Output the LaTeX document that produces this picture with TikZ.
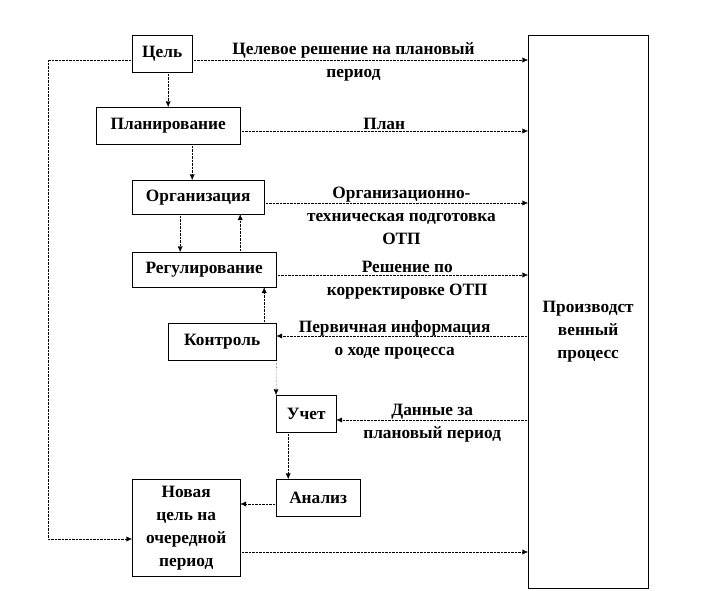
\documentclass[tikz,border=0pt]{standalone}
\usepackage{fontspec}
\setmainfont{Liberation Serif}
\usetikzlibrary{arrows.meta}

\begin{document}
\begin{tikzpicture}[x=1pt,y=-1pt,
  box/.style={draw,thin,anchor=north west,align=center,inner sep=2pt,
              font=\bfseries\fontsize{17.3}{23}\selectfont},
  lbl/.style={align=center,inner sep=1pt,font=\bfseries\fontsize{17.3}{23}\selectfont},
  conn/.style={densely dotted,thin,-{Latex[length=2mm,width=1.8mm]}}]
\useasboundingbox (0,0) rectangle (720,591);
% blocks
\node[box,minimum width=60pt,minimum height=37pt] (cel) at (132,35) {Цель};
\node[box,minimum width=144pt,minimum height=37pt] (plan) at (96,107) {Планирование};
\node[box,minimum width=132pt,minimum height=34pt] (org) at (132,180) {Организация};
\node[box,minimum width=144pt,minimum height=35pt] (reg) at (132,252) {Регулирование};
\node[box,minimum width=108pt,minimum height=37pt] (kontr) at (168,323) {Контроль};
\node[box,minimum width=60pt,minimum height=37pt] (uchet) at (276,395) {Учет};
\node[box,minimum width=84pt,minimum height=37pt] (analiz) at (276,479) {Анализ};
\node[box,minimum width=108pt,minimum height=97pt] (nov) at (132,479) {Новая\\цель на\\очередной\\период};
\node[box,minimum width=120pt,minimum height=553pt] (proc) at (528,35) {};
\node[lbl] (proctxt) at ([yshift=-20pt]proc.center) {Производст\\венный\\процесс};
% levels of the horizontal links
\coordinate (y1) at (0,60);
\coordinate (y2) at (0,131);
\coordinate (y3) at (0,203);
\coordinate (y4) at (0,275);
\coordinate (y5) at (0,336);
\coordinate (y6) at (0,420);
\coordinate (y7) at (0,504);
\coordinate (y8) at (0,539);
\coordinate (y9) at (0,552);
% to the process
\draw[conn] (cel.east |- y1) -- node[lbl,pos=.48,yshift=-1.5pt]{Целевое решение на плановый\\период} (proc.west |- y1);
\draw[conn] (plan.east |- y2) -- node[lbl,pos=.5,above]{План} (proc.west |- y2);
\draw[conn] (org.east |- y3) -- node[lbl,pos=.52,yshift=-13pt]{Организационно-\\техническая подготовка\\ОТП} (proc.west |- y3);
\draw[conn] (reg.east |- y4) -- node[lbl,pos=.52,yshift=-5pt]{Решение по\\корректировке ОТП} (proc.west |- y4);
\draw[conn] (nov.east |- y9) -- (proc.west |- y9);
% from the process
\draw[conn] (proc.west |- y5) -- node[lbl,pos=.53,yshift=-3.5pt]{Первичная информация\\о ходе процесса} (kontr.east |- y5);
\draw[conn] (proc.west |- y6) -- node[lbl,pos=.5,yshift=-3pt]{Данные за\\плановый период} (uchet.east |- y6);
% vertical chain
\draw[conn] ([xshift=6pt]cel.south) -- ([xshift=6pt]cel.south |- plan.north);
\draw[conn] ([xshift=24pt]plan.south) -- ([xshift=24pt]plan.south |- org.north);
\draw[conn] ([xshift=-18pt]org.south) -- ([xshift=-18pt]org.south |- reg.north);
\draw[conn] ([xshift=36pt]reg.north) -- ([xshift=36pt]reg.north |- org.south);
\draw[conn] ([xshift=42pt]kontr.north) -- ([xshift=42pt]kontr.north |- reg.south);
\draw[conn] (kontr.south east) -- (uchet.north west);
\draw[conn] ([xshift=-18pt]uchet.south) -- ([xshift=-18pt]uchet.south |- analiz.north);
\draw[conn] (analiz.west |- y7) -- (nov.east |- y7);
% feedback to the new goal
\draw[conn] (cel.west |- y1) -- ++(-84,0) |- (nov.west |- y8);
\end{tikzpicture}
\end{document}
